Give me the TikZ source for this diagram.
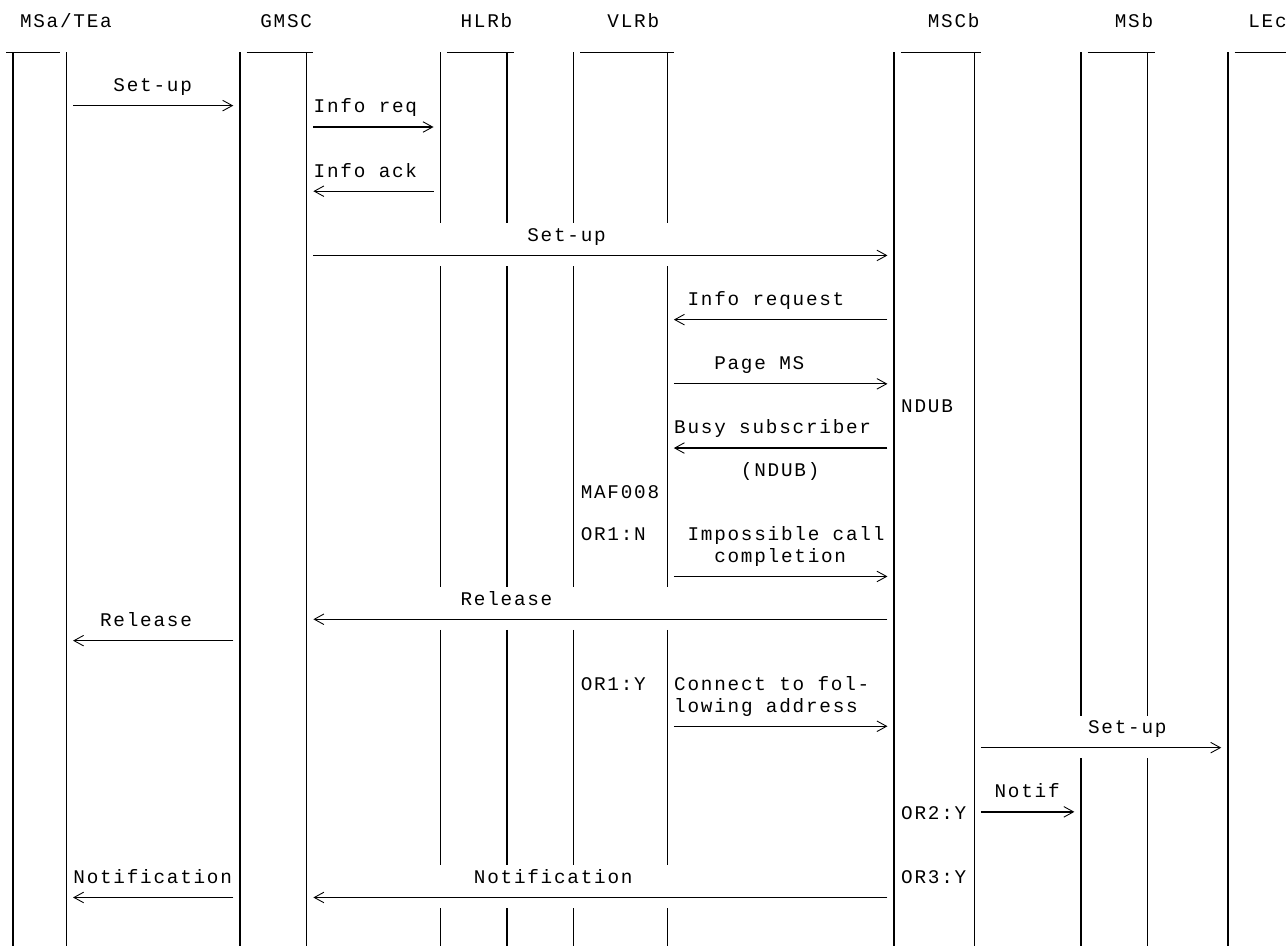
\documentclass[tikz,border=0pt]{standalone}
\usepackage{fontspec}
\newfontfamily\msgfont[LetterSpace=9.1]{Liberation Mono}
\usetikzlibrary{arrows.meta}

\begin{document}
\begin{tikzpicture}[
    x=0.267cm, y=-0.428cm,
    every node/.style={font=\msgfont\fontsize{11}{13}\selectfont},
    lbl/.style={anchor=base west, inner sep=0pt},
    life/.style={line width=0.75pt},
    bar/.style={line width=0.6pt},
    msg/.style={line width=0.75pt,
        -{Straight Barb[length=5.5pt, width=6pt, line width=0.5pt]}}
]
% grid: x = character column (left edge), y = text row (centre)
\def\ybot{43.27}
\useasboundingbox (-0.472,-0.935) rectangle (95.85,\ybot);

% --- Entity heads (top bars)
\foreach \a/\b in {0/4, 18/23, 33/38, 43/50, 67/73, 81/86, 92/95.85}
  \draw[bar] (\a,1.5) -- (\b,1.5);

% --- Continuous lifelines
\foreach \c in {0, 4, 17, 22, 66, 72, 91}
  \draw[life] (\c+0.5,1.5) -- (\c+0.5,\ybot);

% HLRb / VLRb lifelines, broken where messages cross them
\foreach \c in {32, 37, 42, 49}
  \foreach \a/\b in {1.5/9.5, 11.5/26.5, 28.5/39.5, 41.5/\ybot}
    \draw[life] (\c+0.5,\a) -- (\c+0.5,\b);

% MSb lifelines, broken by the Set-up towards LEc
\foreach \c in {80, 85}
  \foreach \a/\b in {1.5/32.5, 34.5/\ybot}
    \draw[life] (\c+0.5,\a) -- (\c+0.5,\b);

% --- Messages: name / from column / to column / row
\foreach \nm/\a/\b/\r in {%
    setupA/5/17/4, inforeq/23/32/5, infoack/32/23/8,
    setupB/23/66/11, inforequest/66/50/14, pagems/50/66/17,
    busy/66/50/20, impossible/50/66/26, releaseB/66/23/28,
    releaseA/17/5/29, connect/50/66/33, setupC/73/91/34,
    notif/73/80/37, notificationB/66/23/41, notificationA/17/5/41} {
  \coordinate (\nm-from) at (\a,\r);
  \coordinate (\nm-to) at (\b,\r);
  \draw[msg] (\nm-from) -- (\nm-to);
}

% --- Entity names
\foreach \nm/\c/\txt in {msa/1/{MSa/TEa}, gmsc/19/GMSC, hlrb/34/HLRb,
    vlrb/45/VLRb, mscb/69/MSCb, msb/83/MSb, lec/93/LEc}
  \node[lbl] (\nm) at (\c,0.34) {\txt};

% --- Message texts and states: name / column / row / text
\foreach \nm/\c/\r/\txt in {%
    l-setupA/8/3/{Set-up},
    l-inforeq/23/4/{Info req},
    l-infoack/23/7/{Info ack},
    l-setupB/39/10/{Set-up},
    l-inforequest/51/13/{Info request},
    l-pagems/53/16/{Page MS},
    l-ndub/67/18/{NDUB},
    l-busy/50/19/{Busy subscriber},
    l-ndubpar/55/21/{(NDUB)},
    l-maf/43/22/{MAF008},
    l-orna/43/24/{OR1:N},
    l-impossA/51/24/{Impossible call},
    l-impossB/53/25/{completion},
    l-releaseB/34/27/{Release},
    l-releaseA/7/28/{Release},
    l-orya/43/31/{OR1:Y},
    l-connectA/50/31/{Connect to fol-},
    l-connectB/50/32/{lowing address},
    l-setupC/81/33/{Set-up},
    l-notif/74/36/{Notif},
    l-oryb/67/37/{OR2:Y},
    l-notificationB/35/40/{Notification},
    l-oryc/67/40/{OR3:Y},
    l-notificationA/5/40/{Notification}}
  \node[lbl] (\nm) at (\c,\r+0.34) {\txt};
\end{tikzpicture}
\end{document}
